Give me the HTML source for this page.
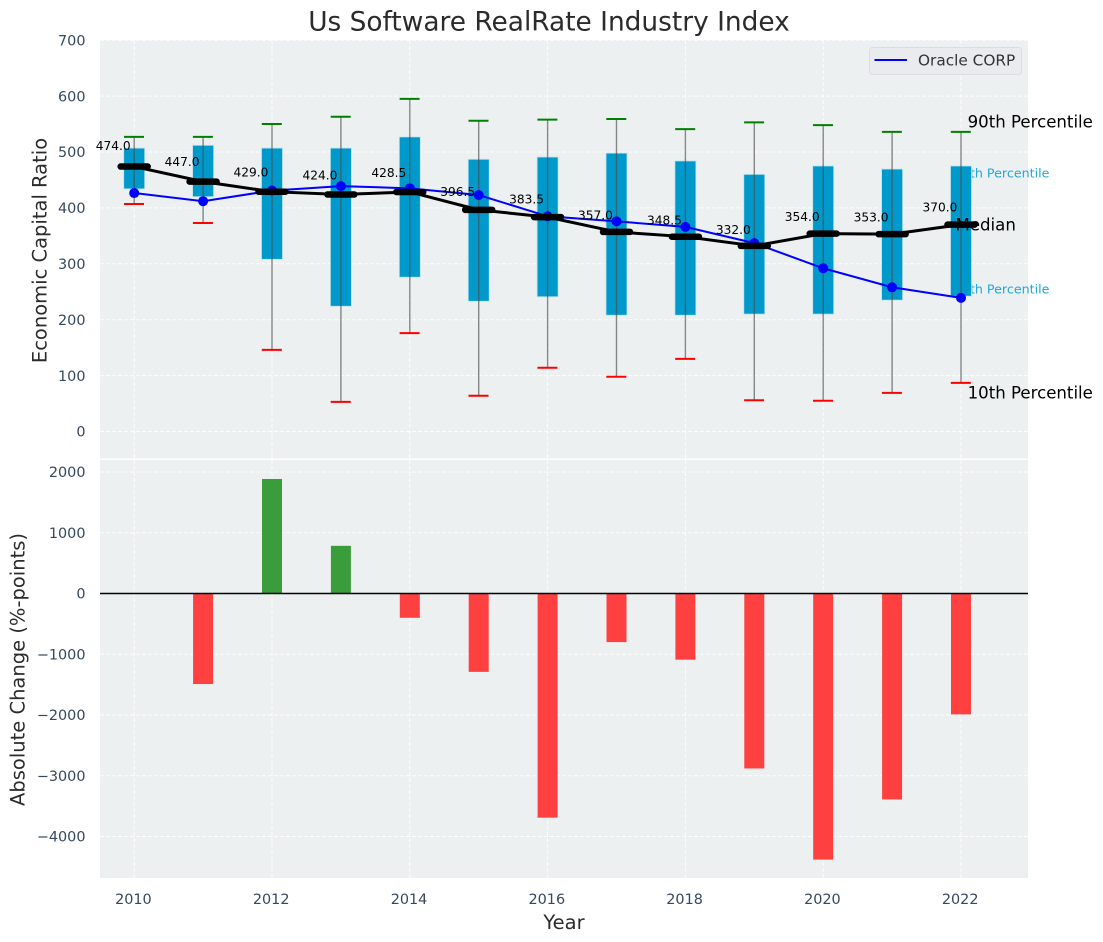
<!DOCTYPE html>
<html lang="en">
<head>
<meta charset="utf-8">
<title>Us Software RealRate Industry Index</title>
<style>
html,body{margin:0;padding:0;background:#fff;}
svg{display:block;font-family:"DejaVu Sans","Liberation Sans",sans-serif;}
</style>
</head>
<body>
<svg id="chart" xmlns="http://www.w3.org/2000/svg" width="1103" height="942" viewBox="0 0 1103 942"></svg>
<script>
const years = [2010,2011,2012,2013,2014,2015,2016,2017,2018,2019,2020,2021,2022];
const p90 = [527,527,550,563,595,556,558,559,541,553,548,536,536];
const p75 = [507,512,507,507,527,487,491,498,484,460,475,469.5,475];
const medians = [474,447,429,424,428.5,396.5,383.5,357,348.5,332,354,353,370];
const p25 = [434,420,308,224,276,233,241,208,208,210,210,235,242];
const p10 = [407,373,146,53,176,64,114,98,130,56,55,69,87];
const oracle = [426.6,412,431,439,435,423,385,376,366,337,292,258,239];
const changes = [0,-1490,1885,785,-400,-1290,-3690,-800,-1090,-2880,-4380,-3390,-1990];
const topTicks = [0,100,200,300,400,500,600,700];
const bottomTicks = [-4000,-3000,-2000,-1000,0,1000,2000];
const xTicks = [2010,2012,2014,2016,2018,2020,2022];

const svg = document.getElementById('chart');
const NS = 'http://www.w3.org/2000/svg';
const x = v => 134.2 + (v - 2010) * 68.9;
const yTop = v => 431.5 - v * 0.559;
const yBot = v => 593.5 - v * 0.06075;

function mk(tag, attrs, name, parent) {
  const el = document.createElementNS(NS, tag);
  for (const k in attrs) el.setAttribute(k, attrs[k]);
  
  
  (parent || svg).appendChild(el);
  return el;
}
function txt(str, attrs, name, parent) {
  const el = mk('text', attrs, name, parent);
  el.textContent = str;
  return el;
}
const fmt = v => String(v).replace('-', '\u2212');
const tickColor = '#34495e';
const labelColor = '#2b2b2b';

mk('rect', {x:100,y:40,width:928,height:418.5,fill:'#ecf0f1'}, 'top-plot-area');
mk('rect', {x:100,y:460,width:928,height:418,fill:'#ecf0f1'}, 'bottom-plot-area');

const gridAttrs = {stroke:'#ffffff','stroke-width':1,'stroke-dasharray':'4 2','stroke-opacity':0.85};
topTicks.forEach(t => {
  mk('line', {x1:100,x2:1028,y1:yTop(t),y2:yTop(t),...gridAttrs}, 'top-horizontal-gridline');
  txt(fmt(t), {x:85.5,y:yTop(t)+5.2,'text-anchor':'end','font-size':14.4,fill:tickColor}, 'top-y-tick-label');
});
bottomTicks.forEach(t => {
  mk('line', {x1:100,x2:1028,y1:yBot(t),y2:yBot(t),...gridAttrs}, 'bottom-horizontal-gridline');
  txt(fmt(t), {x:85.5,y:yBot(t)+5.2,'text-anchor':'end','font-size':14.4,fill:tickColor}, 'bottom-y-tick-label');
});
xTicks.forEach(t => {
  mk('line', {x1:x(t),x2:x(t),y1:40,y2:458.5,...gridAttrs}, 'top-vertical-gridline');
  mk('line', {x1:x(t),x2:x(t),y1:460,y2:878,...gridAttrs}, 'bottom-vertical-gridline');
  txt(String(t), {x:x(t)-0.8,y:904,'text-anchor':'middle','font-size':14.4,fill:tickColor}, 'x-tick-label');
});

const last = years.length - 1;
const lastX = x(years[last]);
const pctColor = '#1fa8d6';
txt('75th Percentile', {x:1049.5,y:yTop(p75[last])+11.3,'text-anchor':'end','font-size':12.7,fill:pctColor}, 'percentile-75-label');
txt('25th Percentile', {x:1049.5,y:yTop(p25[last])-2.7,'text-anchor':'end','font-size':12.7,fill:pctColor}, 'percentile-25-label');

const boxW = 21;
const barW = 20;
years.forEach((yr, i) => {
  const top = yTop(p75[i]), bot = yTop(p25[i]);
  mk('rect', {x:x(yr)-boxW/2,y:top,width:boxW,height:bot-top,fill:'#0099cc',stroke:'#bfe3ef','stroke-width':0.8}, 'box-' + yr);
});
years.forEach((yr, i) => {
  mk('line', {x1:x(yr),x2:x(yr),y1:yTop(p10[i]),y2:yTop(p90[i]),stroke:'#4d4d4d','stroke-opacity':0.65,'stroke-width':1.4}, 'whisker-' + yr);
  mk('line', {x1:x(yr)-10.2,x2:x(yr)+9.8,y1:yTop(p90[i]),y2:yTop(p90[i]),stroke:'#008000','stroke-width':2}, 'cap-p90-' + yr);
  mk('line', {x1:x(yr)-10.2,x2:x(yr)+9.8,y1:yTop(p10[i]),y2:yTop(p10[i]),stroke:'#ff0000','stroke-width':2}, 'cap-p10-' + yr);
});

mk('polyline', {points:years.map((yr,i) => x(yr)+','+yTop(oracle[i])).join(' '),fill:'none',stroke:'#0000ff','stroke-width':2}, 'oracle-line');
years.forEach((yr, i) => {
  mk('circle', {cx:x(yr),cy:yTop(oracle[i]),r:5,fill:'#0000ff'}, 'oracle-point-' + yr);
});

txt('Median', {x:lastX-5.5,y:yTop(medians[last])+5.8,'font-size':16.6,fill:'#000'}, 'median-label');
mk('polyline', {points:years.map((yr,i) => x(yr)+','+yTop(medians[i])).join(' '),fill:'none',stroke:'#000','stroke-width':3}, 'median-line');
years.forEach((yr, i) => {
  mk('line', {x1:x(yr)-13.5,x2:x(yr)+13.5,y1:yTop(medians[i]),y2:yTop(medians[i]),stroke:'#000','stroke-width':6.5,'stroke-linecap':'round'}, 'median-marker-' + yr);
  txt(medians[i].toFixed(1), {x:x(yr)-21,y:yTop(medians[i]*1.063),'text-anchor':'middle','font-size':12.2,fill:'#000'}, 'median-value-' + yr);
});

txt('90th Percentile', {x:lastX+6.6,y:yTop(p90[last])-4.2,'font-size':16.6,fill:'#000'}, 'percentile-90-label');
txt('10th Percentile', {x:lastX+6.6,y:yTop(p10[last])+15.8,'font-size':16.6,fill:'#000'}, 'percentile-10-label');

mk('rect', {x:869.5,y:47.5,width:152,height:27,rx:3,fill:'#e9ebef',stroke:'#dcdde2','stroke-width':1}, 'legend-box');
mk('line', {x1:874.5,x2:907,y1:60,y2:60,stroke:'#0000ff','stroke-width':2}, 'legend-line');
txt('Oracle CORP', {x:918,y:65.5,'font-size':15.3,fill:'#333333'}, 'legend-label');

years.forEach((yr, i) => {
  if (changes[i] === 0) return;
  const a = yBot(Math.max(changes[i],0)), b = yBot(Math.min(changes[i],0));
  mk('rect', {x:x(yr)-barW/2,y:a,width:barW,height:b-a,fill:changes[i] > 0 ? '#3b9c3b' : '#ff4040'}, 'change-bar-' + yr);
});
mk('line', {x1:100,x2:1028,y1:yBot(0),y2:yBot(0),stroke:'#000','stroke-width':1.4}, 'zero-line');

txt('Us Software RealRate Industry Index', {x:549,y:30.5,'text-anchor':'middle','font-size':26.4,fill:'#2b2b2b'}, 'chart-title');
txt('Economic Capital Ratio', {x:0,y:0,transform:'translate(46.5,250.5) rotate(-90)','text-anchor':'middle','font-size':19.5,fill:labelColor}, 'top-y-axis-title');
txt('Absolute Change (%-points)', {x:0,y:0,transform:'translate(24.5,669.5) rotate(-90)','text-anchor':'middle','font-size':19.5,fill:labelColor}, 'bottom-y-axis-title');
txt('Year', {x:564,y:929,'text-anchor':'middle','font-size':19.5,fill:labelColor}, 'x-axis-title');
</script>
</body>
</html>
